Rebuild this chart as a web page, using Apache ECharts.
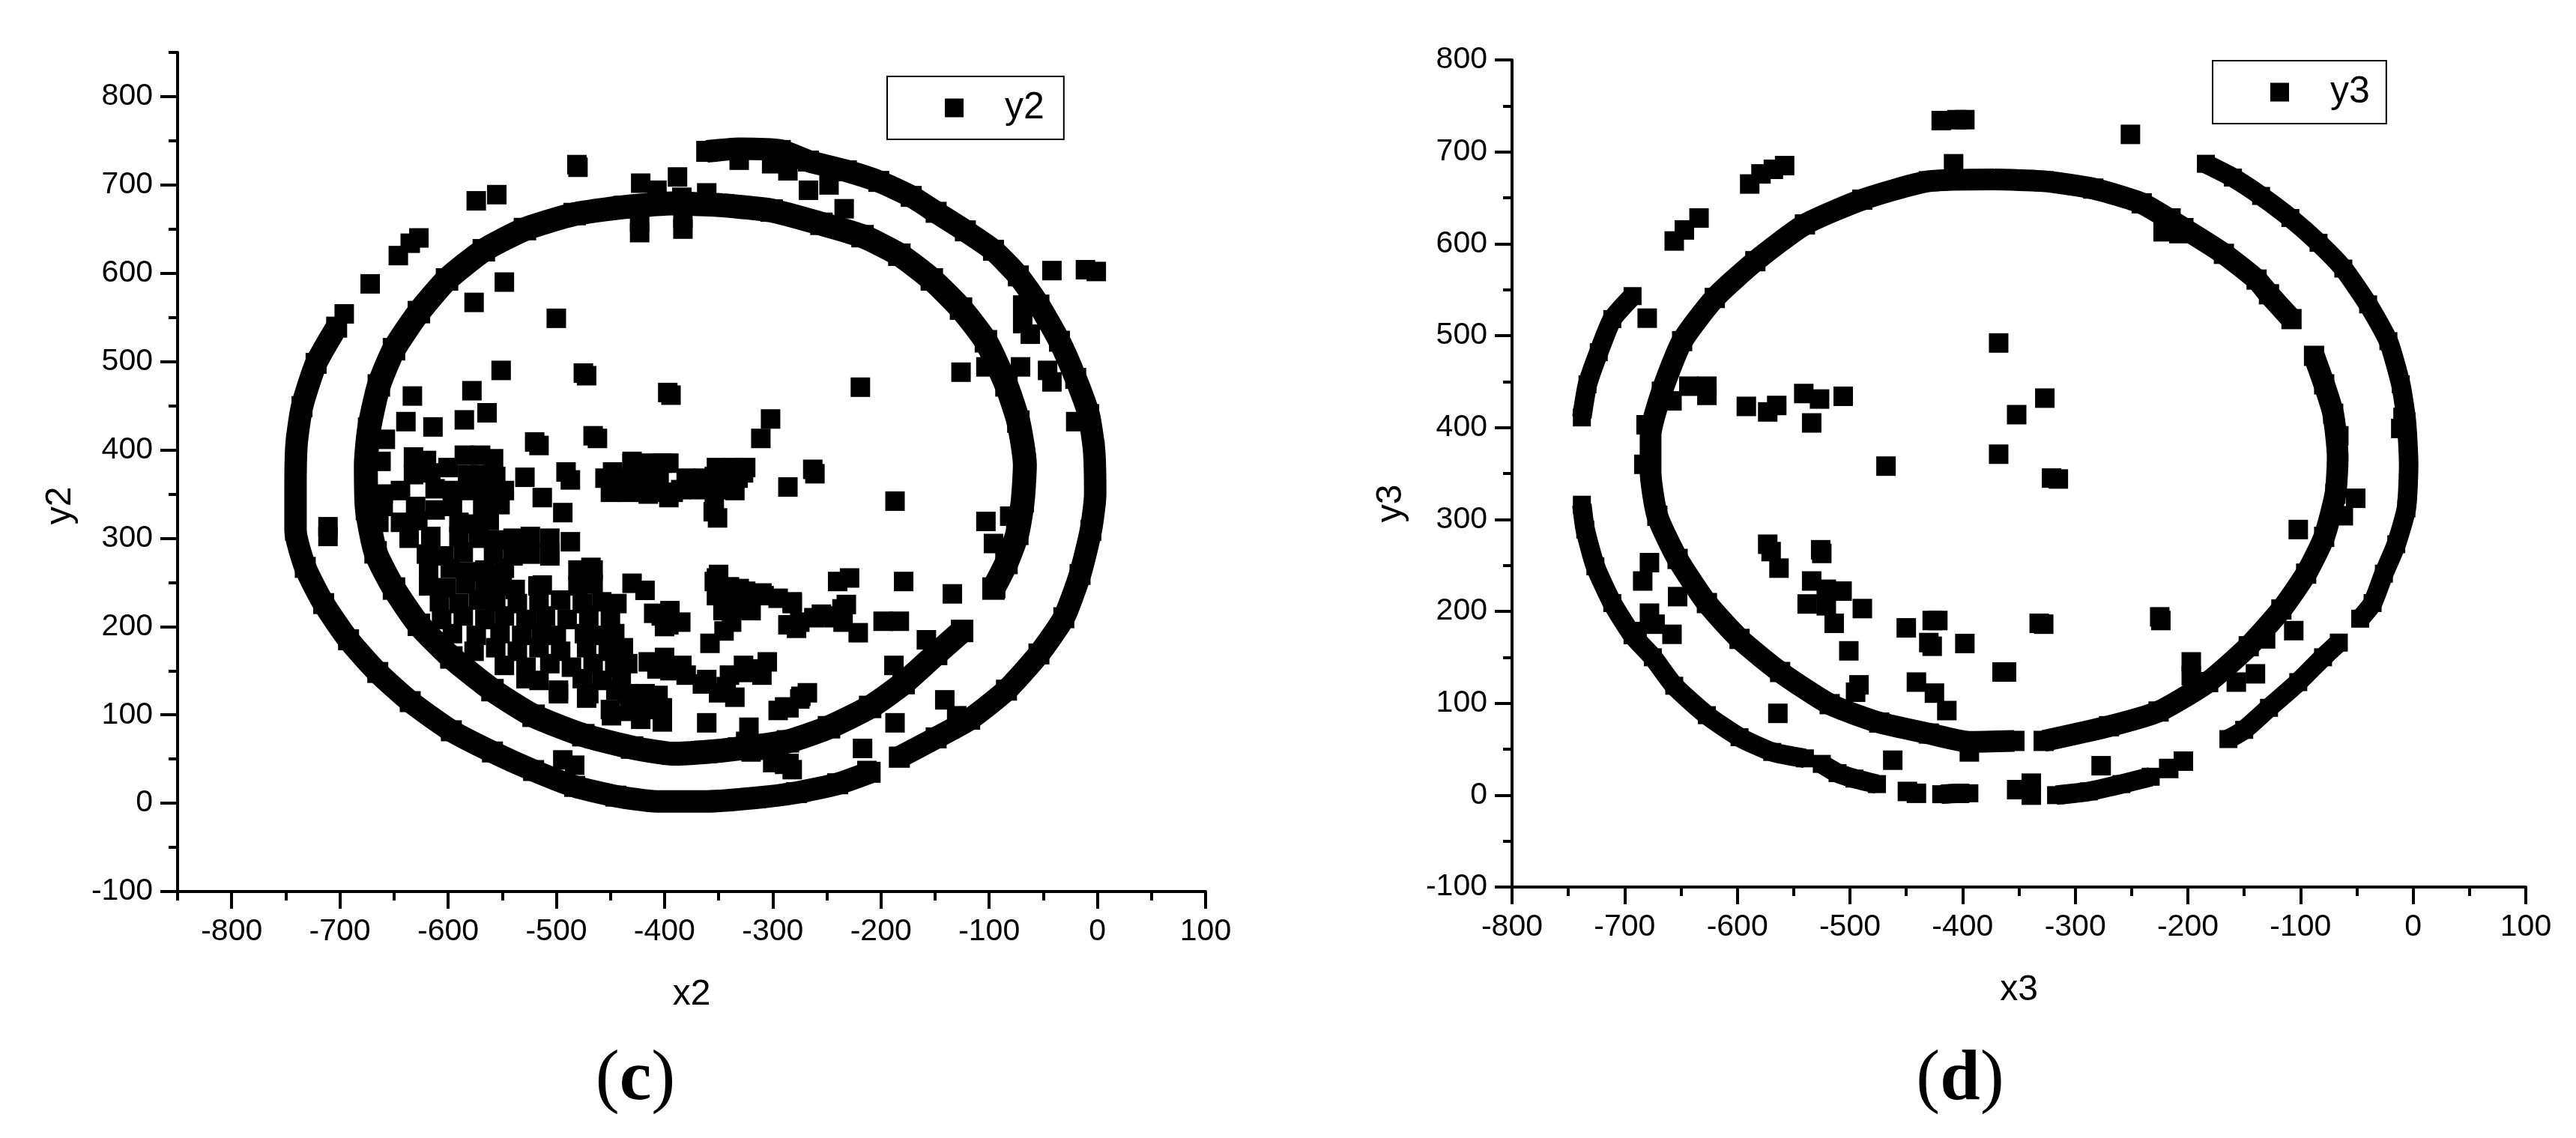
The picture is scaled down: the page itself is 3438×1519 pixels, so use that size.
<!DOCTYPE html>
<html><head><meta charset="utf-8">
<style>html,body{margin:0;padding:0;background:#fff}#c{width:3438px;height:1519px}</style>
<script src="https://cdn.jsdelivr.net/npm/echarts@6/dist/echarts.min.js"></script>
</head><body><div id="c"></div>
<script>
// ---- panel (c) ----
const y2OuterArcA=[[-361,738],[-331,741],[-293,739],[-267,727],[-232,716],[-202,704],[-172,687],[-149,669],[-122,648],[-96,626],[-73,597],[-54,564],[-35,523],[-20,481],[-8,440],[-3,399],[-2,350],[-6,309],[-16,259],[-31,210],[-54,169],[-84,128],[-118,95],[-149,74],[-183,52]];
const y2OuterArcB=[[-210,35],[-240,22],[-278,12],[-316,6],[-361,2],[-407,2],[-445,8],[-483,19],[-521,37],[-559,58],[-597,82],[-635,115],[-665,148],[-692,185],[-715,226],[-732,267],[-741,309],[-741,358],[-740,407],[-735,449],[-722,498],[-703,539]];
const y2InnerArcA=[[-346,677],[-301,671],[-255,656],[-217,642],[-183,621],[-153,593],[-126,560],[-103,523],[-84,473],[-73,432],[-67,383],[-69,342],[-74,305],[-84,272],[-96,243]];
const y2InnerArcB=[[-125,195],[-149,169],[-179,136],[-210,109],[-248,86],[-286,70],[-331,62],[-362,58],[-392,56],[-430,63],[-475,77],[-521,99],[-559,128],[-597,165],[-627,202],[-650,243],[-667,284],[-675,333],[-676,383],[-673,424],[-664,473],[-650,514],[-627,556],[-601,593],[-567,626],[-529,650],[-483,667],[-437,675],[-392,679],[-346,677]];
const y2Scattered=[[-481,723],[-480,720],[-422,702],[-388,709],[-407,694],[-384,686],[-361,691],[-423,646],[-423,658],[-383,650],[-383,662],
[-574,682],[-555,689],[-627,640],[-635,634],[-646,620],[-672,588],[-696,554],[-548,590],[-576,567],[-500,549],[-475,487],[-472,484],[-551,490],[-578,467],[-397,465],[-394,462],[-219,471],[-126,488],[-71,494],[-103,494],[-302,435],[-311,413],[-42,603],[-11,604],[-1,602],
[-69,564],[-69,543],[-62,531],[-46,490],[-42,477],[-20,432],[-234,673],[-267,694],[-248,700],[-286,716],[-331,728],[-301,724],[-187,342],[-81,325],[-103,319],[-96,294],[-73,309],[-179,251],[-134,237],[-94,243],
[-198,206],[-183,206],[-221,193],[-158,185],[-188,156],[-141,117],[-130,99],[-187,91],[-183,53],[-217,62],[-213,37],[-274,121],[-289,109],[-322,86],[-361,91],[-494,49],[-483,43],[-289,44],[-300,46],[-320,58],[-711,313],[-711,302],
[-430,387],[-407,384],[-396,385],[-448,375],[-437,362],[-415,350],[-396,346],[-373,362],[-354,370],[-350,379],[-327,374],[-335,354],[-354,341],[-351,323],[-286,358],[-261,373],[-263,378],
[-491,375],[-487,366],[-494,329],[-513,346],[-529,369],[-520,409],[-516,405],[-466,416],[-462,413],[-633,461],[-639,432],[-614,426],[-585,434],[-564,442],[-658,412],[-662,387],
[-563,259],[-529,292],[-506,284],[-487,296],[-513,247],[-479,251],[-468,267],[-498,128],[-472,119],[-445,128],[-449,99],[-426,107],[-407,111],[-422,95],[-407,152],[-384,156],[-361,140],[-343,132],[-327,156],[-312,152],[-430,249],[-418,241],[-403,212],[-396,202],
[-354,251],[-350,259],[-331,243],[-308,235],[-282,226],[-286,202],[-278,198],[-255,214],[-236,220],[-244,210],[-240,251],[-229,255],[-346,218],[-320,218],[-358,181]];
// crowded lower-left mass, read row by row with its gaps
const y2Crowded=[
[-632,392],[-620,388],[-600,380],[-585,394],[-570,394],[-558,390],
[-632,372],[-616,374],[-582,372],[-566,372],[-556,370],
[-660,350],[-644,354],[-612,356],[-596,354],[-580,354],[-564,352],[-548,354],
[-660,336],[-630,336],[-612,332],[-596,336],[-568,336],[-552,338],
[-664,318],[-644,318],[-628,320],[-590,318],[-574,316],[-562,320],
[-636,300],[-616,302],[-590,302],[-572,300],[-556,298],[-540,300],[-524,302],[-506,300],
[-620,282],[-604,280],[-586,284],[-558,282],[-540,280],[-524,282],[-506,280],
[-618,264],[-598,266],[-582,262],[-566,264],[-548,266],[-480,264],[-466,264],
[-618,246],[-602,244],[-584,248],[-566,244],[-550,246],[-538,242],[-517,246],[-480,246],[-466,248],
[-608,228],[-590,226],[-572,230],[-556,228],[-536,226],[-516,228],[-496,230],[-476,226],[-458,228],[-444,226],
[-606,208],[-586,212],[-566,208],[-548,212],[-528,208],[-510,212],[-490,208],[-470,212],[-450,208],
[-596,192],[-574,190],[-552,192],[-532,190],[-514,192],[-500,190],[-474,192],[-456,190],[-446,192],
[-576,172],[-556,176],[-536,172],[-516,176],[-496,172],[-472,176],[-452,172],[-438,176],
[-548,156],[-528,154],[-506,158],[-486,154],[-466,158],[-446,154],[-434,158],
[-528,141],[-516,139],[-476,141],[-458,139],[-440,141],
[-498,124],[-470,124],[-434,124],[-418,124],[-406,122],
[-450,106],[-432,104],[-414,106],[-402,108],[-402,92]];
const y2Lumps=[[-455,368],[-438,368],[-422,368],[-405,368],[-450,352],[-434,352],[-418,352],[-402,352],[-392,352],[-430,385],[-414,385],[-402,385],
[-380,368],[-364,368],[-348,368],[-332,368],[-385,355],[-368,355],[-352,355],[-352,380],[-336,380],[-325,380],[-355,330],
[-352,255],[-340,245],[-325,240],[-310,238],[-295,232],[-282,228],[-352,235],[-338,225],[-338,205],[-345,195],[-322,220],[-275,205],[-262,210],[-250,212],[-235,205],[-232,225],
[-415,160],[-400,165],[-395,150],[-380,145],[-365,135],[-350,125],[-335,120],[-340,145],[-325,148],[-305,160],[-310,145],
[-410,215],[-395,218],[-400,200],[-385,205],[-295,105],[-285,108],[-275,118],[-268,125],[-325,70],[-305,60],[-295,50],[-285,45],[-282,38]];
// ---- panel (d) ----
const y3OuterArcA=[[-184,687],[-160,672],[-135,652],[-109,628],[-84,601],[-62,573],[-40,534],[-22,494],[-11,447],[-6,407],[-4,360],[-6,312],[-15,273],[-26,241],[-36,209],[-47,192]];
const y3OuterArcB=[[-66,166],[-80,150],[-102,123],[-128,95],[-150,71],[-164,61]];
const y3OuterArcC=[[-317,0],[-288,4],[-259,12],[-233,20]];
const y3OuterArcD=[[-419,1],[-405,2],[-394,2]];
const y3OuterArcE=[[-525,34],[-511,24],[-496,18],[-476,12]];
const y3OuterArcF=[[-738,316],[-735,289],[-726,249],[-711,209],[-693,174],[-675,150],[-656,119],[-627,87],[-598,63],[-569,47],[-540,40]];
const y3OuterArcG=[[-738,411],[-733,447],[-723,482],[-711,518],[-693,543]];
const y3InnerArcA=[[-372,670],[-328,668],[-284,660],[-241,644],[-204,617],[-168,589],[-139,561],[-128,545],[-108,518]];
const y3InnerArcB=[[-88,478],[-79,447],[-71,415],[-67,368],[-69,328],[-79,281],[-95,241],[-117,202],[-146,162],[-182,123],[-226,91],[-270,75],[-328,59]];
const y3InnerArcC=[[-354,59],[-394,58],[-430,67],[-474,79],[-518,99],[-562,134],[-598,170],[-627,209],[-653,257],[-671,304],[-677,352],[-677,391],[-667,439],[-649,494],[-620,541],[-584,581],[-540,621],[-489,648],[-430,668],[-372,670]];
const y3Scattered=[[-204,37],[-217,29],[-277,32],[-339,13],[-352,6],[-339,0],[-449,4],[-441,2],[-462,38],
[-656,603],[-647,615],[-634,628],[-589,665],[-579,676],[-568,681],[-558,685],[-419,734],[-405,735],[-398,735],[-251,719],[-408,687],
[-368,492],[-327,432],[-352,414],[-368,371],[-468,358],[-321,345],[-315,344],[-680,519],[-681,403],[-683,360],[-658,429],[-643,445],[-627,445],[-627,435],[-592,423],[-573,417],[-565,424],[-541,437],[-527,431],[-506,434],[-534,405],
[-573,273],[-570,265],[-563,247],[-526,267],[-525,263],[-534,233],[-538,208],[-521,224],[-521,206],[-507,222],[-514,187],[-489,203],[-501,157],[-492,120],[-495,112],[-450,182],[-430,166],[-427,162],[-427,190],[-422,190],[-398,165],[-441,123],[-425,111],[-414,92],[-365,134],[-361,134],[-332,187],[-328,186],[-225,194],[-224,190],
[-102,289],[-51,323],[-62,304],[-106,179],[-131,170],[-197,145],[-197,130],[-157,123],[-140,132],[-678,253],[-684,233],[-678,198],[-673,186],[-658,175],[-653,216],[-689,178],[-564,89],[-394,47],[-222,613],[-208,611],[-215,628],[-9,411],[-11,399],[-66,391]];
// ---- ticks ----
const xMajor=[-800,-700,-600,-500,-400,-300,-200,-100,0,100];
const x2Minor=[-850,-750,-650,-550,-450,-350,-250,-150,-50,50];
const x3Minor=[-750,-650,-550,-450,-350,-250,-150,-50,50];
const yMajor=[-100,0,100,200,300,400,500,600,700,800];
const y2Minor=[-50,50,150,250,350,450,550,650,750,850];
const y3Minor=[-50,50,150,250,350,450,550,650,750];
const panelTags=['c','d'];

const FONT='"Liberation Sans",Arial,sans-serif';
const SERIF='"Liberation Serif",serif';
const BLACK='#000';
function majorAxis(kind,idx,name,min,max,major,gap,pad){
  return {type:'value',gridIndex:idx,position:kind==='x'?'bottom':'left',min,max,interval:50,name,nameLocation:'middle',nameGap:gap,
    nameTextStyle:{fontFamily:FONT,fontSize:48,color:BLACK,padding:pad},
    axisLine:{show:true,onZero:false,lineStyle:{color:BLACK,width:4}},splitLine:{show:false},
    axisTick:{show:true,length:23,customValues:major,lineStyle:{color:BLACK,width:4}},
    axisLabel:{customValues:major,fontFamily:FONT,fontSize:41,color:BLACK,margin:33,hideOverlap:false,showMinLabel:true,showMaxLabel:true}};
}
function minorAxis(kind,idx,min,max,minor){
  return {type:'value',gridIndex:idx,position:kind==='x'?'bottom':'left',min,max,interval:50,
    axisLine:{show:false,onZero:false},splitLine:{show:false},axisLabel:{show:false},
    axisTick:{show:true,length:12,customValues:minor,lineStyle:{color:BLACK,width:4}}};
}
const arc=(name,idx,data,w)=>({type:'line',name,xAxisIndex:idx*2,yAxisIndex:idx*2,data,symbol:'rect',symbolSize:w-2,smooth:0.2,
  showSymbol:true,itemStyle:{color:BLACK,opacity:1},lineStyle:{color:BLACK,width:w,join:'round',opacity:1},silent:true,animation:false,z:2});
const dots=(name,idx,data)=>({type:'scatter',name,xAxisIndex:idx*2,yAxisIndex:idx*2,data,symbol:'rect',symbolSize:26,
  itemStyle:{color:BLACK,opacity:1},silent:true,animation:false,z:3});
const legend=(name,left,top,padR)=>({data:[{name,icon:'rect'}],left,top,orient:'vertical',itemWidth:25,itemHeight:25,
  padding:[17,padR,17,77],borderColor:BLACK,borderWidth:2,selectedMode:false,
  textStyle:{fontFamily:FONT,fontSize:50,color:BLACK,padding:[0,0,0,50]}});
const tag=(t,left,top)=>({text:`{n|(}{b|${t}}{n|)}`,left,top,textAlign:'center',padding:0,
  textStyle:{rich:{n:{fontFamily:SERIF,fontWeight:'normal',fontSize:96,color:BLACK},b:{fontFamily:SERIF,fontWeight:'bold',fontSize:96,color:BLACK}}}});

const chart=echarts.init(document.getElementById('c'),null,{renderer:'canvas'});
chart.setOption({
  animation:false,backgroundColor:'#fff',
  title:[tag(panelTags[0],848,1394),tag(panelTags[1],2616,1394)],
  legend:[legend('y2',1184,102,26),legend('y3',2953,81,22)],
  grid:[{left:237,top:70,width:1372,height:1120,containLabel:false},{left:2018,top:80,width:1353,height:1104,containLabel:false}],
  xAxis:[
    majorAxis('x',0,'x2',-850,100,xMajor,114,[0,0,0,0]),minorAxis('x',0,-850,100,x2Minor),
    majorAxis('x',1,'x3',-800,100,xMajor,114,[0,0,0,0]),minorAxis('x',1,-800,100,x3Minor)],
  yAxis:[
    majorAxis('y',0,'y2',-100,850,yMajor,132,[0,90,0,0]),minorAxis('y',0,-100,850,y2Minor),
    majorAxis('y',1,'y3',-100,800,yMajor,137,[0,80,0,0]),minorAxis('y',1,-100,800,y3Minor)],
  series:[
    arc('y2',0,y2OuterArcA,30),arc('y2',0,y2OuterArcB,30),arc('y2',0,y2InnerArcA,32),arc('y2',0,y2InnerArcB,32),dots('y2',0,y2Scattered),dots('y2',0,y2Crowded),dots('y2',0,y2Lumps),
    arc('y3',1,y3OuterArcA,26),arc('y3',1,y3OuterArcB,26),arc('y3',1,y3OuterArcC,26),arc('y3',1,y3OuterArcD,26),arc('y3',1,y3OuterArcE,26),arc('y3',1,y3OuterArcF,26),arc('y3',1,y3OuterArcG,26),
    arc('y3',1,y3InnerArcA,29),arc('y3',1,y3InnerArcB,29),arc('y3',1,y3InnerArcC,29),dots('y3',1,y3Scattered)
  ]
});
</script></body></html>
